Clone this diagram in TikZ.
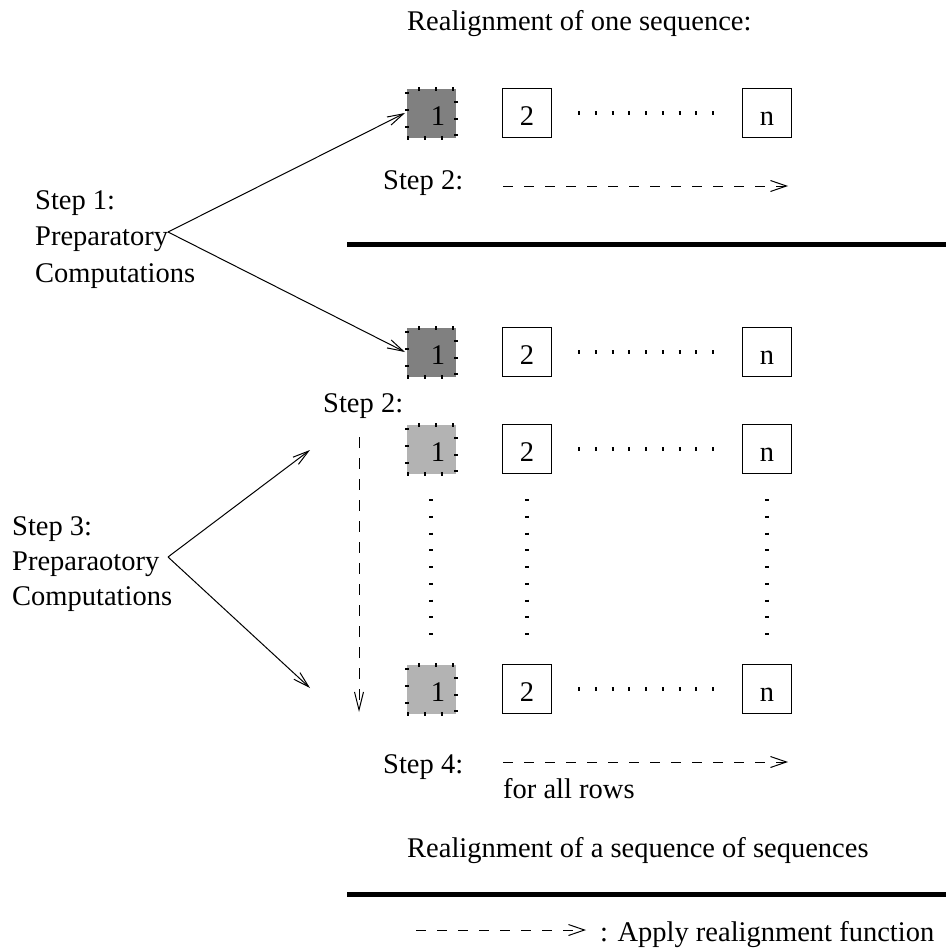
\documentclass[tikz,border=0pt]{standalone}
\usepackage{fontspec}
\setmainfont{Liberation Serif}
\usetikzlibrary{arrows.meta}
\definecolor{darkfill}{HTML}{808080}
\definecolor{lightfill}{HTML}{B3B3B3}
\begin{document}
\begin{tikzpicture}[x=1pt,y=-1pt,
  every node/.style={font=\fontsize{28.5}{36}\selectfont, inner sep=0pt},
  txt/.style={anchor=base west},
  cell/.style={draw, line width=1pt, minimum size=48.5pt, text height=24pt, text depth=0pt},
  shaded/.style={fill=#1, draw, line width=4pt, dash pattern=on 2pt off 14.75pt, minimum size=49pt},
  dots/.style={line width=4.5pt, dash pattern=on 2pt off 14.75pt},
  thinarrow/.style={line width=1pt, -{Straight Barb[length=16pt,width=9pt]}},
  dasharrow/.style={line width=1pt, dash pattern=on 10pt off 11pt, -{Straight Barb[length=16pt,width=11pt]}},
  vdasharrow/.style={line width=1pt, dash pattern=on 11pt off 10pt, -{Straight Barb[length=18pt,width=9pt]}},
  rule/.style={line width=4.5pt}
]
\useasboundingbox (0,0) rectangle (946,950);

% headings
\node[txt] (title1) at (407,30.7) {Realignment of one sequence:};
\node[txt] (title2) at (407,857) {Realignment of a sequence of sequences};

% rows of cells
\foreach \r/\yy/\sh in {1/113/darkfill, 2/352/darkfill, 3/449/lightfill, 4/689/lightfill} {
  \node[shaded=\sh] (r\r a) at (431.5,\yy) {};
  \node[anchor=base] (r\r one) at (438,{\yy+12}) {1};
  \node[cell] (r\r b) at (527,\yy) {2};
  \node[cell] (r\r n) at (767,\yy) {n};
  \draw[dots] (578,\yy) -- (714,\yy);
}

% vertical ellipsis columns
\foreach \xx in {431,527,767} {
  \draw[dots] (\xx,499) -- (\xx,637);
}

% step 1
\node[txt] (s1a) at (35,209) {Step 1:};
\node[txt] (s1b) at (35,245.5) {Preparatory};
\node[txt] (s1c) at (35,282) {Computations};
\coordinate (ap1) at (168,232);
\draw[thinarrow] (ap1) -- (r1a.west);
\draw[thinarrow] (ap1) -- (r2a.west);

% step 2, one sequence
\node[txt] (st2a) at (383,189) {Step 2:};
\coordinate (d1s) at (503,186);
\coordinate (d1e) at (788,186);
\draw[dasharrow] (d1s) -- (d1e);

% separators
\coordinate (h1a) at (347,244.5);
\coordinate (h1b) at (946,244.5);
\draw[rule] (h1a) -- (h1b);
\coordinate (h2a) at (347,894.5);
\coordinate (h2b) at (946,894.5);
\draw[rule] (h2a) -- (h2b);

% step 2, sequence of sequences
\node[txt] (st2b) at (323,412) {Step 2:};
\coordinate (v1) at (359,437);
\coordinate (v2) at (359,712);
\draw[vdasharrow] (v1) -- (v2);

% step 3
\node[txt] (s3a) at (12,535) {Step 3:};
\node[txt] (s3b) at (12,570) {Preparaotory};
\node[txt] (s3c) at (12,605.5) {Computations};
\coordinate (ap3) at (168,557);
\coordinate (t3a) at (310,450);
\coordinate (t3b) at (310,688);
\draw[thinarrow] (ap3) -- (t3a);
\draw[thinarrow] (ap3) -- (t3b);

% step 4
\node[txt] (s4) at (383,773) {Step 4:};
\coordinate (d4s) at (503,762);
\coordinate (d4e) at (788,762);
\draw[dasharrow] (d4s) -- (d4e);
\node[txt] (rows) at (503,798) {for all rows};

% legend
\coordinate (ls) at (416,930);
\coordinate (le) at (586,930);
\draw[dasharrow] (ls) -- (le);
\node[txt] (legend) at (600,941) {: Apply realignment function};
\end{tikzpicture}
\end{document}
